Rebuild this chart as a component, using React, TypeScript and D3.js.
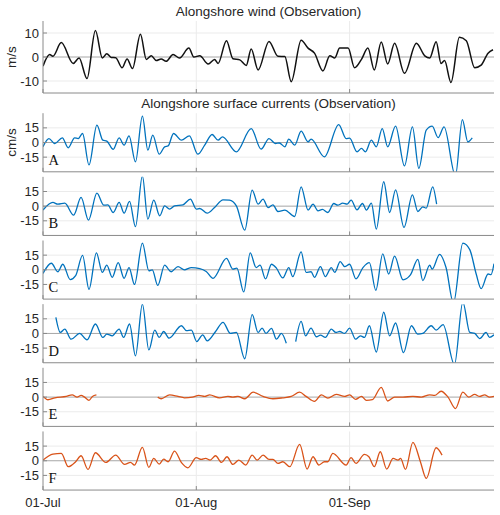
import React from "react";
import * as d3 from "d3";

type P = [number, number];

const windTicks = [-10, 0, 10];
const currentTicks = [-15, 0, 15];
const dateTicks = [0, 31, 62];
const panelLetters = ["A", "B", "C", "D", "E", "F"];

const wind: P[] = [[0,-3.8],[1.35,1],[2.0,0.3],[3.7,6],[6.1,-2.7],[7.3,-0.4],[8.9,-9],[10.6,11],[12.0,-0.4],[12.9,1.4],[13.8,-0.2],[14.7,-0.3],[16.0,-4.5],[17.0,-0.8],[18.1,-4.8],[19.7,9.5],[20.9,-1],[21.9,0.5],[22.9,-1.5],[23.9,-0.8],[24.9,-1.8],[26.3,1],[27.6,-0.4],[29.5,3.7],[30.5,0],[31.7,0.5],[33.4,-2.9],[34.7,-1],[35.4,-2.7],[37.1,6.8],[38.4,-0.7],[39.8,-1.2],[41.1,-3.5],[42.1,3.3],[43.5,-5.4],[45.7,6.5],[47.5,0.3],[48.9,0.2],[50.2,-10.3],[52.2,7],[53.6,3.7],[54.9,1.6],[56.6,-5.8],[58.0,0.5],[59.0,-0.4],[60.0,3.7],[61.7,3.7],[63.0,-4.5],[64.4,-1],[65.7,3.7],[67.0,-5.4],[68.4,6.3],[69.7,-2.9],[71.1,5.7],[73.1,-6.8],[75.5,5.7],[77.2,0.5],[78.2,-0.4],[79.5,6.4],[80.5,-2.7],[81.2,-1.5],[82.5,-10.6],[84.2,8.2],[85.6,6.8],[87.3,-4.5],[88.6,-3.4],[90.0,1.6],[91.0,3]];

const siteA: P[] = [[0,-4.4],[1.2,4],[2.4,-1],[3.9,4.8],[5.1,-5.5],[6.4,4.8],[7.1,4],[8.0,9.2],[9.3,-23],[10.9,17.7],[12.1,2.4],[12.9,1.5],[14.2,-7],[15.4,4.8],[16.4,-2.7],[17.4,6.8],[18.7,-19.8],[20.1,27],[21.2,-7.8],[22.2,7.5],[23.5,-12],[24.6,-4.4],[25.3,-3.5],[26.4,9.2],[28.0,2.4],[29.6,6.8],[31.3,-12],[32.7,-2.7],[34.2,8.2],[35.4,2.4],[36.3,5.8],[39.1,-9.5],[42.1,14.3],[44.1,-6.8],[45.7,4],[47.0,-1],[47.8,-0.5],[48.9,-4.4],[49.7,3.4],[50.9,-2.7],[52.2,11.6],[53.6,0.7],[54.2,3.4],[56.9,-14.7],[59.8,18.4],[61.3,4],[62.0,4.5],[63.5,-9.5],[64.4,-6.1],[65.2,-9.5],[66.4,2.4],[67.4,-4.4],[68.6,14.3],[69.7,-4.4],[71.3,16.7],[73.1,-24],[74.7,16],[76.0,-26.5],[77.5,12.6],[78.7,16.7],[79.9,5],[81.1,16],[83.4,-34],[84.8,23.4],[85.9,0.7],[86.8,4.8]];

const siteB: P[] = [[0,-4],[2.0,3.8],[3.0,2],[4.4,3],[6.2,-9.2],[7.7,8.9],[9.2,-14.3],[10.9,13.3],[12.3,1],[13.1,1.3],[14.2,-6.5],[15.4,3.8],[16.4,-7.2],[17.5,4.8],[18.7,-21],[20.1,31],[21.2,-13.3],[22.4,6.1],[23.6,-9.9],[24.6,0.3],[25.6,-3],[26.6,0.3],[28.3,1.4],[29.8,7.2],[31.0,-3],[31.7,-2.4],[33.2,-7.2],[34.7,-1.4],[36.4,6.5],[37.7,6.1],[39.1,0.3],[40.8,-24.6],[42.3,16.4],[43.5,2],[44.5,7.2],[45.5,-1.4],[46.5,1.4],[47.5,-5.5],[48.9,-4],[50.9,-10.6],[52.2,19.8],[53.6,-4],[54.6,2],[55.6,-4.8],[56.5,-3.4],[57.6,-6.5],[58.8,2.7],[59.6,1],[60.6,3],[61.5,2],[62.3,6.1],[63.5,-3.8],[64.6,2.7],[65.4,-4],[66.4,3],[67.4,-23.5],[68.9,25],[70.1,-6.5],[71.3,16.7],[73.0,-21.8],[74.7,11.6],[75.8,-5.5],[76.8,-0.7],[77.5,-2],[78.8,19.8],[79.6,2]];

const siteC: P[] = [[0,-3.7],[1.7,6.7],[3.0,-2],[4.0,5.7],[5.5,-10],[6.6,-6],[8.0,14.7],[9.3,-20],[10.8,17.3],[12.0,-2.7],[12.9,4.7],[14.0,-7.7],[15.2,7.3],[16.4,-8.7],[17.4,2.3],[18.5,-15],[20.1,27.3],[21.4,-1],[22.1,0],[23.2,-16],[24.6,4.7],[25.9,-2],[27.3,3.3],[28.6,0],[30.0,2.3],[31.7,1.3],[33.0,-1.7],[34.4,-8.7],[37.1,11.7],[38.4,0.7],[39.2,1.7],[40.6,-22.7],[41.9,17.3],[43.1,2.3],[43.9,4.7],[45.0,-9.3],[46.2,5.7],[47.2,1.7],[48.5,-8.3],[49.7,2.3],[50.5,-7],[52.2,18.3],[53.2,-2.7],[54.2,-2],[54.9,-7.7],[56.1,3.3],[57.1,-7],[58.3,2.3],[59.0,-2.7],[60.1,8.3],[61.0,3.3],[62.0,5.7],[63.3,-9.3],[64.7,2.3],[66.0,7.3],[67.3,-21],[68.7,16.3],[69.9,-4.3],[71.1,14],[72.8,-10.3],[74.3,-5.3],[75.8,10.7],[76.8,-11],[78.2,4.7],[78.7,0.7],[80.2,15.7],[81.5,2.3],[83.0,-34],[84.9,27.3],[86.3,20.7],[87.6,-4.3],[88.6,-19.3],[90.0,-4.3],[90.6,-5],[91.2,6.3]];

const siteD1: P[] = [[2.6,16.5],[3.5,1],[4.4,4.5],[5.7,-5.9],[7.4,0],[8.9,-6.6],[10.6,9.7],[12.1,-4.1],[12.9,-0.7],[14.0,-2.4],[15.4,4.5],[16.3,-4.1],[17.5,9.7],[18.7,-23],[20.1,30],[21.4,-16.9],[22.6,3.4],[23.5,-4.1],[24.4,2],[25.5,-4.8],[28.0,7.9],[29.0,2.8],[30.0,3.4],[31.1,-8.3],[32.3,-1.4],[33.2,-7.6],[34.9,2],[36.4,11.4],[37.9,0],[39.1,1],[40.8,-25.9],[42.3,19.3],[43.5,1],[44.3,5.5],[45.1,0],[46.2,5.2],[47.2,-5.9],[48.2,0],[49.2,-10]];
const siteD2: P[] = [[51.1,-8.3],[52.2,12.4],[53.1,-2.4],[54.2,5.5],[55.3,-3.4],[56.1,-1.7],[57.1,-4.1],[58.3,4.5],[59.2,1],[60.0,2],[61.0,0],[62.0,5.5],[63.2,-5.9],[64.2,-2.4],[65.0,-4.1],[66.0,7.9],[67.4,-19],[68.9,21.7],[70.1,-2.4],[71.3,10.7],[72.9,-19.7],[74.5,7.9],[75.8,-0.7],[76.8,0],[78.5,7.9],[79.5,3.4],[80.9,9],[83.2,-32],[84.9,32],[86.3,1],[87.3,0],[88.3,-5.2],[89.6,1],[90.3,-4.1],[91.2,-1.4]];

const siteE1: P[] = [[0,0.7],[1.0,-2.7],[2.4,-0.7],[4.7,0.7],[5.9,2.3],[6.9,0],[7.7,1.7],[8.4,0],[9.3,-3.3],[10.0,0.7],[10.8,2.3]];
const siteE2: P[] = [[23.2,0],[23.9,-1.7],[25.6,2.3],[27.3,0.7],[28.6,-0.7],[30.2,0],[31.5,1.7],[32.7,0.7],[33.7,2.3],[35.7,-0.7],[37.4,0.7],[38.4,0],[39.4,0.7],[40.8,-1.7],[42.5,5],[44.5,0.7],[46.5,-1.7],[48.5,-0.7],[50.2,0.7],[51.9,5],[53.2,0.7],[54.9,-4.3],[56.3,2.3],[57.6,-1],[59.3,2.7],[61.0,0.7],[62.0,2.3],[63.2,-2.3],[64.4,0.7],[65.4,-3.3],[66.6,-2.7],[68.4,10],[69.7,-4],[71.1,0],[72.8,0],[74.8,0.7],[76.5,0],[78.2,2.3],[79.2,1.7],[80.5,6],[81.9,0],[83.4,-11.7],[84.9,5],[86.1,0],[87.3,2.7],[88.3,0.7],[89.3,2.3],[90.3,0],[91.2,0.7]];

const siteF: P[] = [[0,0.7],[2.0,6.8],[3.7,7.5],[5.1,-6.1],[6.6,-1],[7.7,5.1],[9.1,-8.9],[10.6,8.2],[12.7,-1.7],[14.7,5.8],[16.5,-3.8],[17.7,-1.7],[18.5,-4.4],[20.1,13.7],[21.4,-6.8],[22.4,2.4],[23.5,-3.4],[24.4,1.7],[25.3,-1],[26.6,9.9],[28.0,-2],[29.3,-7.2],[31.0,3.1],[32.0,1.4],[32.9,2.4],[33.8,0.7],[34.9,5.1],[36.1,-1.7],[37.2,4.1],[38.4,-3.8],[39.6,0.7],[41.0,-4.4],[42.3,5.8],[43.3,0.7],[44.5,5.8],[45.7,1.4],[46.5,1.4],[47.5,-2.7],[48.5,-1],[49.9,-6.1],[51.9,16.7],[53.4,-8.5],[54.6,4.1],[55.8,-4.4],[56.9,-1],[57.6,-1],[58.6,7.5],[61.3,-4.4],[62.3,3.1],[63.3,-2.7],[65.0,6.5],[65.9,4.1],[67.0,-6.1],[68.2,9.2],[69.5,-8.5],[70.8,2.4],[71.8,0.7],[72.3,2.4],[73.3,-8.9],[74.8,18.8],[76.3,-0.7],[77.5,-18],[79.5,13.3],[80.7,5.8]];

const currentSeries: P[][][] = [[siteA], [siteB], [siteC], [siteD1, siteD2], [siteE1, siteE2], [siteF]];
const seriesColors = ["#0072BD", "#0072BD", "#0072BD", "#0072BD", "#D95319", "#D95319"];

const BASE = Date.UTC(2021, 6, 1);
const toDate = (d: number) => new Date(BASE + d * 864e5);
const LEFT = 43, RIGHT = 494;
const x = d3.scaleUtc().domain([toDate(0), toDate(91.2)]).range([LEFT, RIGHT]);
const fmt = d3.utcFormat("%d-%b");

const GRID = "#ebebeb";
const AXIS = "#8a8a8a";
const ZERO = "#a6a6a6";
const TXT = "#262626";
const SANS = "Liberation Sans, Arial, sans-serif";

function Panel({ id, top, bottom, domain, ticks, segments, color, letter, width }:
  { id: string; top: number; bottom: number; domain: [number, number]; ticks: number[]; segments: P[][]; color: string; letter?: string; width: number }) {
  const y = d3.scaleLinear().domain(domain).range([bottom, top]);
  const line = d3.line<P>().x(d => x(toDate(d[0]))).y(d => y(d[1])).curve(d3.curveMonotoneX);
  return (
    <g>
      <defs>
        <clipPath id={id}><rect x={LEFT} y={top} width={RIGHT - LEFT} height={bottom - top} /></clipPath>
      </defs>
      {ticks.filter(t => t !== 0).map(t => (
        <line key={"h" + t} x1={LEFT} x2={RIGHT} y1={y(t)} y2={y(t)} stroke={GRID} strokeWidth={1} />
      ))}
      {dateTicks.slice(1).map(t => (
        <line key={"v" + t} x1={x(toDate(t))} x2={x(toDate(t))} y1={top} y2={bottom} stroke={GRID} strokeWidth={1} />
      ))}
      <line x1={LEFT} x2={RIGHT} y1={y(0)} y2={y(0)} stroke={ZERO} strokeWidth={1} />
      <g clipPath={`url(#${id})`}>
        {segments.map((s, i) => (
          <path key={i} d={line(s) || ""} fill="none" stroke={color} strokeWidth={width} strokeLinejoin="round" />
        ))}
      </g>
      <line x1={LEFT} x2={LEFT} y1={top} y2={bottom} stroke={AXIS} strokeWidth={1} />
      <line x1={LEFT} x2={RIGHT} y1={bottom} y2={bottom} stroke={AXIS} strokeWidth={1} />
      {dateTicks.map(t => (
        <line key={"xt" + t} x1={x(toDate(t))} x2={x(toDate(t))} y1={bottom} y2={bottom - 4} stroke={AXIS} strokeWidth={1} />
      ))}
      {ticks.map(t => (
        <g key={"yt" + t}>
          <line x1={LEFT} x2={LEFT + 4} y1={y(t)} y2={y(t)} stroke={AXIS} strokeWidth={1} />
          <text x={LEFT - 4} y={y(t)} dy="0.35em" textAnchor="end" fontFamily={SANS} fontSize={13} fill={TXT}>{t}</text>
        </g>
      ))}
      {letter && (
        <text x={48.5} y={bottom - 7} fontFamily="Liberation Serif, Times New Roman, serif" fontSize={14.5} fill="#111">{letter}</text>
      )}
    </g>
  );
}

export default function App() {
  const cx = (LEFT + RIGHT) / 2;
  return (
    <svg width={500} height={515} style={{ position: "absolute", left: 0, top: 0, background: "#fff" }}>
      <rect width={500} height={515} fill="#fff" />
      <text x={cx} y={15.5} textAnchor="middle" fontFamily={SANS} fontSize={13.5} fill={TXT}>Alongshore wind (Observation)</text>
      <Panel id="cw" top={21} bottom={93} domain={[-15, 15]} ticks={windTicks} segments={[wind]} color="#111" width={1.5} />
      <text transform={`translate(16,57) rotate(-90)`} textAnchor="middle" fontFamily={SANS} fontSize={13.5} fill={TXT}>m/s</text>
      <text x={cx} y={107.5} textAnchor="middle" fontFamily={SANS} fontSize={13.5} fill={TXT}>Alongshore surface currents (Observation)</text>
      <text transform={`translate(16,142.5) rotate(-90)`} textAnchor="middle" fontFamily={SANS} fontSize={13.5} fill={TXT}>cm/s</text>
      {currentSeries.map((segs, i) => {
        const zero = 142.5 + i * 63.65;
        return (
          <Panel key={i} id={"c" + i} top={zero - 29.3} bottom={zero + 29.3} domain={[-30, 30]} ticks={currentTicks}
            segments={segs} color={seriesColors[i]} letter={panelLetters[i]} width={1.3} />
        );
      })}
      {dateTicks.map(t => (
        <text key={t} x={x(toDate(t))} y={506.5} textAnchor="middle" fontFamily={SANS} fontSize={13} fill={TXT}>{fmt(toDate(t))}</text>
      ))}
    </svg>
  );
}
